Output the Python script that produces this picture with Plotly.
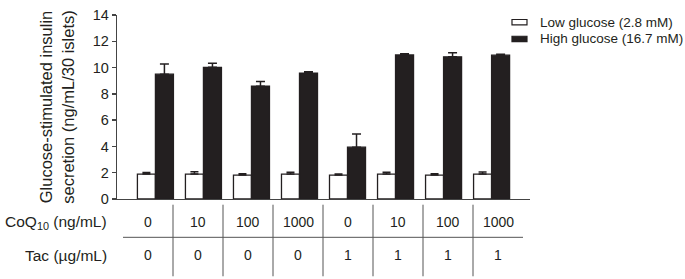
import plotly.graph_objects as go

# ---- data ----
conditions = ["C1", "C2", "C3", "C4", "C5", "C6", "C7", "C8"]
coq10_labels = ["0", "10", "100", "1000", "0", "10", "100", "1000"]
tac_labels = ["0", "0", "0", "0", "1", "1", "1", "1"]

low_name = "Low glucose (2.8 mM)"
high_name = "High glucose (16.7 mM)"
low_glucose = [1.90, 1.90, 1.82, 1.90, 1.82, 1.90, 1.82, 1.90]
low_glucose_err = [0.12, 0.18, 0.10, 0.14, 0.08, 0.14, 0.10, 0.15]
high_glucose = [9.50, 10.02, 8.58, 9.58, 3.94, 10.96, 10.82, 10.94]
high_glucose_err = [0.78, 0.30, 0.36, 0.10, 1.00, 0.10, 0.30, 0.08]

y_ticks = [0, 2, 4, 6, 8, 10, 12, 14]

INK = "#231f20"
LINE = "#444"
FONT = "Arial, 'Liberation Sans', sans-serif"

fig = go.Figure()
fig.add_trace(go.Bar(
    x=conditions, y=low_glucose, name=low_name,
    marker=dict(color="white", line=dict(color=INK, width=1.3)),
    error_y=dict(type="data", array=low_glucose_err, arrayminus=[0] * 8,
                 symmetric=False, color=INK, thickness=1.5, width=4),
))
fig.add_trace(go.Bar(
    x=conditions, y=high_glucose, name=high_name,
    marker=dict(color=INK, line=dict(color=INK, width=1.3)),
    error_y=dict(type="data", array=high_glucose_err, arrayminus=[0] * 8,
                 symmetric=False, color=INK, thickness=1.5, width=4.5),
))
# invisible trace to establish the table axis
fig.add_trace(go.Scatter(x=[0], y=[0], xaxis="x2", mode="markers",
                         marker=dict(opacity=0), showlegend=False, hoverinfo="skip"))

fig.update_layout(
    width=685, height=279,
    margin=dict(l=117, r=155, t=7, b=80),
    paper_bgcolor="white", plot_bgcolor="white",
    font=dict(family=FONT, color=INK, size=15),
    barmode="group", bargap=0.25, bargroupgap=0,
    showlegend=False,
    xaxis=dict(range=[-0.8, 7.8], showticklabels=False, ticks="",
               showline=True, linecolor=LINE, linewidth=1.3,
               showgrid=False, zeroline=False, fixedrange=True),
    xaxis2=dict(range=[-0.62, 7.64], overlaying="x", anchor="y",
                visible=False, fixedrange=True),
    yaxis=dict(range=[0, 14], tickvals=y_ticks, ticks="outside", ticklen=4,
               tickwidth=1.3, tickcolor=LINE, showline=True, linecolor=LINE,
               linewidth=1.3, showgrid=False, zeroline=False,
               ticklabeloverflow="allow", fixedrange=True,
               tickfont=dict(size=14.5, color=INK),
               title=dict(text="Glucose-stimulated insulin<br>secretion (ng/mL/30 islets)",
                          font=dict(size=16.5, color=INK), standoff=14)),
)

annotations = []
shapes = []

# ---- table under the x axis ----
row1_y = -0.1253
row2_y = -0.307
for k in range(len(conditions)):
    annotations.append(dict(x=k, y=row1_y, xref="x2", yref="paper", text=coq10_labels[k],
                            xanchor="center", yanchor="middle", showarrow=False,
                            font=dict(size=14, color=INK)))
    annotations.append(dict(x=k, y=row2_y, xref="x2", yref="paper", text=tac_labels[k],
                            xanchor="center", yanchor="middle", showarrow=False,
                            font=dict(size=14, color=INK)))
annotations.append(dict(x=-0.019, y=row1_y, xref="paper", yref="paper", xanchor="right",
                        yanchor="middle", text="CoQ<sub>10</sub> (ng/mL)", showarrow=False,
                        font=dict(size=15.5, color=INK)))
annotations.append(dict(x=-0.019, y=row2_y, xref="paper", yref="paper", xanchor="right",
                        yanchor="middle", text="Tac (µg/mL)", showarrow=False,
                        font=dict(size=15.5, color=INK)))

shapes.append(dict(type="line", xref="x2", yref="paper", x0=-0.5, x1=len(conditions) - 0.5,
                   y0=-0.2083, y1=-0.2083, line=dict(color="#555", width=1)))
for k in range(len(conditions) - 1):
    shapes.append(dict(type="line", xref="x2", yref="paper", x0=k + 0.5, x1=k + 0.5,
                       y0=-0.031, y1=-0.42, line=dict(color="#555", width=1)))

# ---- legend (drawn manually to match the flat rectangle keys) ----
legend_rows = [(low_name, "white", 0.961), (high_name, INK, 0.870)]
for name, fill, yc in legend_rows:
    shapes.append(dict(type="rect", xref="paper", yref="paper",
                       x0=0.9564, x1=0.9927, y0=yc - 0.0145, y1=yc + 0.0145,
                       fillcolor=fill, line=dict(color=INK, width=1.2)))
    annotations.append(dict(x=1.0194, y=yc, xref="paper", yref="paper", text=name,
                            xanchor="left", yanchor="middle", showarrow=False,
                            font=dict(size=13.5, color=INK)))

fig.update_layout(annotations=annotations, shapes=shapes)

fig.write_html(
    "out.html",
    config={"displayModeBar": False, "staticPlot": True},
    post_script="document.body.style.margin='0';document.body.style.overflow='hidden';",
)
